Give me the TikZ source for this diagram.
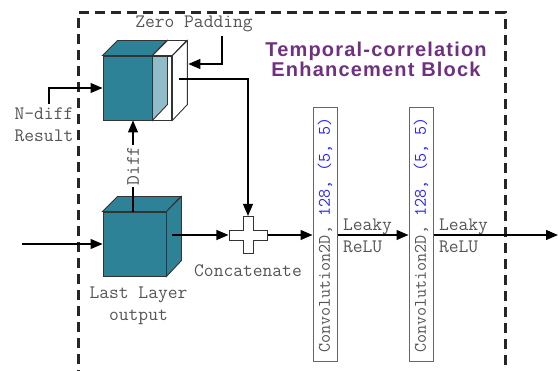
\documentclass[tikz,border=0pt]{standalone}
\usepackage{fontspec}
\usepackage{graphicx}
\usetikzlibrary{arrows.meta}
\usetikzlibrary{positioning}
\newfontfamily\titlefont{Liberation Sans}
\definecolor{cubeteal}{RGB}{46,130,152}
\definecolor{padblue}{RGB}{143,188,200}
\definecolor{titlepurple}{RGB}{112,48,128}
\definecolor{convblue}{RGB}{40,40,245}
\definecolor{labelgray}{RGB}{85,85,85}

\begin{document}
\begin{tikzpicture}[x=1pt, y=-1pt, >={Triangle[length=12pt,width=10pt]}, line width=1.1pt,
        face/.style={draw=black!80, line width=0.9pt},
        cube/.style={face, fill=cubeteal, inner sep=0pt, minimum height=64pt},
        lbl/.style={text=labelgray, font=\ttfamily\fontsize{19}{22}\selectfont},
        conv/.style={draw=black!60, line width=1pt, fill=white, inner sep=0pt,
            minimum width=24pt, minimum height=254pt,
            font=\ttfamily\fontsize{17.6}{20}\selectfont, text=labelgray}]
        \useasboundingbox (0,0) rectangle (558,371);

        % block frame
        \draw[line width=3pt, black!85, dash pattern=on 10pt off 6pt]
            (78,380) -- (78,13) -- (505,13) -- (505,380);
        \node[text=titlepurple, align=center,
              font=\titlefont\bfseries\addfontfeature{LetterSpace=6}\fontsize{20}{20}\selectfont]
            (title) at (376,59) {Temporal-correlation\\Enhancement Block};

        % padded cube
        \node[cube, minimum width=49pt] (padcube) at (127.5,88) {};
        \filldraw[face, fill=cubeteal] (padcube.north west) -- ++(15,-15) -- ++(49,0)
            -- (padcube.north east) -- cycle;
        \filldraw[face, fill=padblue] (padcube.north east) -- ++(15,-15) -- ++(0,64)
            -- (padcube.south east) -- cycle;
        \node[face, inner sep=0pt, minimum width=19pt, minimum height=64pt, anchor=west]
            (padslab) at (padcube.east) {};
        \filldraw[face, fill=white] (padslab.north west) -- ++(15,-15) -- ++(19,0)
            -- (padslab.north east) -- cycle;
        \filldraw[face, fill=white] (padslab.north east) -- ++(15,-15) -- ++(0,64)
            -- (padslab.south east) -- cycle;

        % last layer cube
        \node[cube, minimum width=63pt] (lastout) at (134.5,244) {};
        \filldraw[face, fill=cubeteal] (lastout.north west) -- ++(15,-15) -- ++(63,0)
            -- (lastout.north east) -- cycle;
        \filldraw[face, fill=cubeteal] (lastout.north east) -- ++(15,-15) -- ++(0,64)
            -- (lastout.south east) -- cycle;
        \node[lbl, align=center, below=7pt of lastout, xshift=4pt] (lastlbl) {Last Layer\\output};

        % concatenate
        \node[minimum width=38pt, minimum height=37pt, inner sep=0pt] (cat) at (248,235) {};
        \filldraw[face, fill=white] ([shift={(-19,-5)}]cat.center) -- ++(14,0) -- ++(0,-13.5)
            -- ++(10,0) -- ++(0,13.5) -- ++(14,0) -- ++(0,10) -- ++(-14,0) -- ++(0,13.5)
            -- ++(-10,0) -- ++(0,-13.5) -- ++(-14,0) -- cycle;
        \node[lbl, below=7pt of cat] (catlbl) {Concatenate};

        % convolutions
        \node[conv] (conv1) at (325,235)
            {\rotatebox{90}{Convolution2D,~\textcolor{convblue}{128,~(5,~5)}}};
        \node[conv, right=71pt of conv1] (conv2)
            {\rotatebox{90}{Convolution2D,~\textcolor{convblue}{128,~(5,~5)}}};
        \node[lbl, align=left, anchor=west, inner sep=0pt] (leaky1) at ([shift={(5,1)}]conv1.east)
            {Leaky\\ReLU};
        \node[lbl, align=left, anchor=west, inner sep=0pt] (leaky2) at ([shift={(5,1)}]conv2.east)
            {Leaky\\ReLU};

        % labels
        \node[lbl] (zeropad) at (194,24) {Zero Padding};
        \node[lbl, align=left] (ndiff) at (44,125) {N-diff\\Result};

        \coordinate (in) at (22,244);
        \coordinate (out) at (558,235);

        % connectors
        \draw[->] (in) -- (lastout.west);
        \draw[->] ([xshift=6pt]lastout.east |- cat.west) -- (cat.west);
        \draw[->] ([shift={(7,-9)}]padslab.east) -| (cat.north);
        \draw[->] ([xshift=28pt]zeropad.south) |- ([shift={(16,-24)}]padslab.east);
        \draw[->] ([xshift=5pt]ndiff.north) |- (padcube.west);
        \draw[->] ([xshift=-1.5pt]lastout.north) -- node[lbl, fill=white, inner sep=1pt]
            {\rotatebox{90}{Diff}} ([xshift=-1.5pt]lastout.north |- padcube.south);
        \draw[->] (cat.east) -- (conv1.west);
        \draw[->] (conv1.east) -- (conv2.west);
        \draw[->] (conv2.east) -- (out);
    \end{tikzpicture}
\end{document}
